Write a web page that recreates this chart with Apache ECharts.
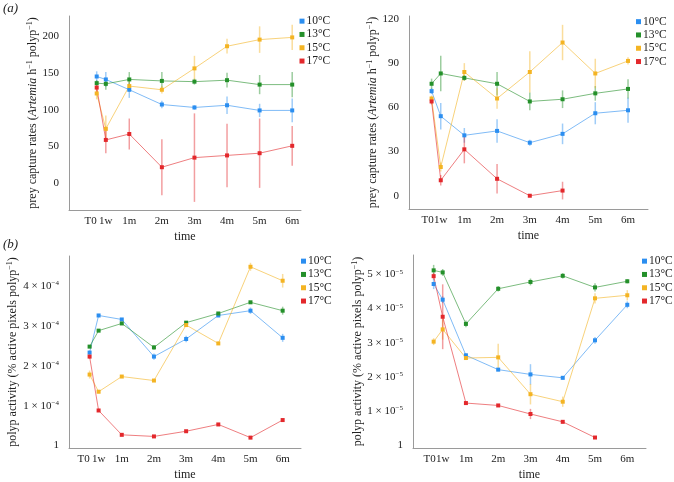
<!DOCTYPE html>
<html>
<head>
<meta charset="utf-8">
<script src="https://cdn.jsdelivr.net/npm/echarts@6/dist/echarts.min.js"></script>
<style>
  html, body { margin: 0; padding: 0; background: #fff; }
  #chart { width: 674px; height: 482px; }
</style>
</head>
<body>
<div id="chart"></div>
<script>
// time points (months after start) and their labels
const months = [0, 0.28, 1, 2, 3, 4, 5, 6]
const tickNames = ['T0', '1w', '1m', '2m', '3m', '4m', '5m', '6m']
const temps = ['10°C', '13°C', '15°C', '17°C']
const colors = ['#2b8ef0', '#24902a', '#f4b423', '#e3282c']

// (a) left: prey capture rates
const a1_10 = [145, 141, 127, 107, 103, 106, 99, 99]
const a1_10err = [7, 10, 11, 5, 3, 12, 9, 16]
const a1_13 = [136, 135, 141, 139, 138, 140, 134, 134]
const a1_13err = [4, 8, 10, 12, 4, 10, 13, 17]
const a1_15 = [122, 74, 132, 127, 156, 186, 195, 198]
const a1_15err = [8, 18, 8, 5, 17, 10, 18, 17]
const a1_17 = [130, 59, 67, 22, 35, 38, 41, 51]
const a1_17err = [8, 18, 21, 38, 60, 43, 47, 27]

// (a) right: prey capture rates
const a2_10 = [71, 54, 41, 44, 36, 42, 56, 58]
const a2_10err = [2, 9, 5, 8, 2, 7, 7.5, 8.5]
const a2_13 = [76, 83, 80, 76, 64, 65.5, 69.5, 72.5]
const a2_13err = [3.5, 12, 2, 8, 6, 6, 5, 6.5]
const a2_15 = [66, 19.5, 84, 66, 84, 104, 83, 91.5]
const a2_15err = [2, 3, 6, 7, 14, 12, 10, 2.5]
const a2_17 = [64, 10.5, 31.5, 11.5, 0, 3.5]
const a2_17err = [2, 3.5, 9.5, 10, 0.5, 6]

// (b) left: polyp activity
const b1_10 = [2.33e-4, 3.26e-4, 3.16e-4, 2.23e-4, 2.67e-4, 3.26e-4, 3.38e-4, 2.70e-4]
const b1_10err = [0.05e-4, 0.04e-4, 0.03e-4, 0.08e-4, 0.08e-4, 0.03e-4, 0.08e-4, 0.1e-4]
const b1_13 = [2.48e-4, 2.88e-4, 3.06e-4, 2.46e-4, 3.08e-4, 3.31e-4, 3.59e-4, 3.38e-4]
const b1_13err = [0.04e-4, 0.03e-4, 0.03e-4, 0.06e-4, 0.03e-4, 0.03e-4, 0.03e-4, 0.1e-4]
const b1_15 = [1.78e-4, 1.35e-4, 1.73e-4, 1.63e-4, 3.02e-4, 2.56e-4, 4.48e-4, 4.13e-4]
const b1_15err = [0.1e-4, 0.04e-4, 0.03e-4, 0.03e-4, 0.04e-4, 0.03e-4, 0.1e-4, 0.17e-4]
const b1_17 = [2.23e-4, 0.88e-4, 0.27e-4, 0.23e-4, 0.36e-4, 0.53e-4, 0.2e-4, 0.64e-4]
const b1_17err = [0.05e-4, 0.03e-4, 0.02e-4, 0.02e-4, 0.02e-4, 0.02e-4, 0.02e-4, 0.03e-4]

// (b) right: polyp activity
const b2_10 = [4.72e-5, 4.26e-5, 2.63e-5, 2.21e-5, 2.07e-5, 1.97e-5, 3.07e-5, 4.11e-5]
const b2_10err = [0.15e-5, 0.1e-5, 0.05e-5, 0.05e-5, 0.3e-5, 0.05e-5, 0.1e-5, 0.1e-5]
const b2_13 = [5.12e-5, 5.06e-5, 3.55e-5, 4.58e-5, 4.78e-5, 4.96e-5, 4.62e-5, 4.80e-5]
const b2_13err = [0.16e-5, 0.1e-5, 0.1e-5, 0.08e-5, 0.1e-5, 0.08e-5, 0.12e-5, 0.06e-5]
const b2_15 = [3.03e-5, 3.39e-5, 2.55e-5, 2.57e-5, 1.49e-5, 1.27e-5, 4.30e-5, 4.39e-5]
const b2_15err = [0.1e-5, 0.3e-5, 0.05e-5, 0.4e-5, 0.3e-5, 0.15e-5, 0.15e-5, 0.15e-5]
const b2_17 = [4.95e-5, 3.76e-5, 1.23e-5, 1.16e-5, 0.91e-5, 0.68e-5, 0.22e-5]
const b2_17err = [0.1e-5, 0.95e-5, 0.05e-5, 0.03e-5, 0.15e-5, 0.03e-5, 0.03e-5]

// y tick values
const a1Ticks = [0, 50, 100, 150, 200]
const a2Ticks = [0, 30, 60, 90, 120]
const b1Ticks = [0, 1e-4, 2e-4, 3e-4, 4e-4]
const b2Ticks = [0, 1e-5, 2e-5, 3e-5, 4e-5, 5e-5]

const FONT = '"Liberation Serif", "Times New Roman", serif'

function fade(hex, a) {
  const n = parseInt(hex.slice(1), 16)
  return 'rgba(' + (n >> 16) + ',' + ((n >> 8) & 255) + ',' + (n & 255) + ',' + a + ')'
}

const panels = [
  { vals: [a1_10, a1_13, a1_15, a1_17], errs: [a1_10err, a1_13err, a1_15err, a1_17err],
    grid: { left: 69, top: 16, width: 232, height: 194 }, x: [-0.85, 6.27], y: [-36, 227],
    ticks: a1Ticks, exp: 0, t0pad: 12, nameGap: 27, legend: { left: 299.5, top: 14.5 } },
  { vals: [a2_10, a2_13, a2_15, a2_17], errs: [a2_10err, a2_13err, a2_15err, a2_17err],
    grid: { left: 409, top: 16, width: 239, height: 193 }, x: [-0.69, 6.61], y: [-9, 122],
    ticks: a2Ticks, exp: 0, t0pad: 8, nameGap: 25, legend: { left: 636, top: 15 } },
  { vals: [b1_10, b1_13, b1_15, b1_17], errs: [b1_10err, b1_13err, b1_15err, b1_17err],
    grid: { left: 69, top: 256, width: 232, height: 192 }, x: [-0.64, 6.57], y: [-0.06e-4, 4.75e-4],
    ticks: b1Ticks, exp: 4, t0pad: 12, nameGap: 50, legend: { left: 301, top: 254.5 } },
  { vals: [b2_10, b2_13, b2_15, b2_17], errs: [b2_10err, b2_13err, b2_15err, b2_17err],
    grid: { left: 413, top: 255, width: 233, height: 194 }, x: [-0.64, 6.58], y: [-0.087e-5, 5.57e-5],
    ticks: b2Ticks, exp: 5, t0pad: 8, nameGap: 48, legend: { left: 642, top: 254.5 } }
]

const nameA = '{n|prey capture rates (}{i|Artemia}{n| h}{s|−1}{n| polyp}{s|−1}{n|)}'
const nameB = '{n|polyp activity (% active pixels polyp}{s|−1}{n|)}'
const nameRich = {
  n: { fontFamily: FONT, fontSize: 12, color: '#222' },
  i: { fontFamily: FONT, fontSize: 12, fontStyle: 'italic', color: '#222' },
  s: { fontFamily: FONT, fontSize: 8, color: '#222', verticalAlign: 'top', padding: [0, 0, 5, 0] }
}

const grids = [], xAxes = [], yAxes = [], legends = [], series = []

panels.forEach(function (p, g) {
  grids.push(p.grid)
  xAxes.push({
    gridIndex: g, type: 'value', min: p.x[0], max: p.x[1],
    axisLine: { show: true, onZero: false, lineStyle: { color: '#9a9a9a', width: 1 } },
    axisTick: { show: false }, splitLine: { show: false },
    axisLabel: {
      customValues: months, margin: 6, fontFamily: FONT, fontSize: 11, color: '#222',
      hideOverlap: false, showMinLabel: true, showMaxLabel: true,
      formatter: function (v) {
        const i = months.indexOf(v)
        if (i === 0) return '{l|T0}'
        return i >= 0 ? tickNames[i] : ''
      },
      rich: { l: { fontFamily: FONT, fontSize: 11, color: '#222', padding: [0, p.t0pad, 0, 0] } }
    },
    name: 'time', nameLocation: 'middle', nameGap: 21,
    nameTextStyle: { fontFamily: FONT, fontSize: 12, color: '#222' }
  })
  yAxes.push({
    gridIndex: g, type: 'value', min: p.y[0], max: p.y[1],
    axisLine: { show: true, onZero: false, lineStyle: { color: '#9a9a9a', width: 1 } },
    axisTick: { show: false }, splitLine: { show: false },
    axisLabel: {
      customValues: p.ticks, margin: 10, fontFamily: FONT, fontSize: 11, color: '#222',
      formatter: function (v) {
        if (!p.exp) return String(v)
        if (v === 0) return '1'
        const k = Math.round(v * Math.pow(10, p.exp))
        return '{n|' + k + ' × 10}{s|−' + p.exp + '}'
      },
      rich: {
        n: { fontFamily: FONT, fontSize: 11, color: '#222' },
        s: { fontFamily: FONT, fontSize: 7, color: '#222', verticalAlign: 'top', padding: [0, 0, 5, 0] }
      }
    },
    name: g < 2 ? nameA : nameB, nameLocation: 'middle', nameGap: p.nameGap,
    nameTextStyle: { rich: nameRich }
  })
  legends.push({
    orient: 'vertical', left: p.legend.left, top: p.legend.top, padding: 0, itemGap: 0,
    icon: 'rect', itemWidth: 5, itemHeight: 5, data: temps,
    textStyle: { fontFamily: FONT, fontSize: 11.5, lineHeight: 13.3, color: '#222', padding: [0, 0, 0, -3] }
  })
  p.vals.forEach(function (v, k) {
    const e = p.errs[k]
    const col = colors[k]
    series.push({
      type: 'custom', name: 'err' + g + k, xAxisIndex: g, yAxisIndex: g, silent: true, z: 2,
      data: v.map(function (y, i) { return [months[i], y - e[i], y + e[i]] }),
      encode: { x: 0, y: [1, 2] },
      renderItem: function (params, api) {
        const lo = api.coord([api.value(0), api.value(1)])
        const hi = api.coord([api.value(0), api.value(2)])
        return { type: 'line', shape: { x1: lo[0], y1: lo[1], x2: hi[0], y2: hi[1] },
          style: { stroke: fade(col, 0.45), lineWidth: 1.5 } }
      }
    })
    series.push({
      type: 'line', name: temps[k], xAxisIndex: g, yAxisIndex: g, z: 3,
      data: v.map(function (y, i) { return [months[i], y] }),
      symbol: 'rect', symbolSize: 4, showSymbol: true,
      itemStyle: { color: col },
      lineStyle: { color: fade(col, 0.6), width: 1 },
      emphasis: { disabled: true }
    })
  })
})

const chart = echarts.init(document.getElementById('chart'), null, { renderer: 'canvas' })
chart.setOption({
  animation: false,
  backgroundColor: '#fff',
  grid: grids, xAxis: xAxes, yAxis: yAxes, legend: legends, series: series,
  graphic: [
    { type: 'text', left: 3, top: 2, style: { text: '(a)', font: 'italic 13px ' + FONT, fill: '#222' } },
    { type: 'text', left: 3, top: 238, style: { text: '(b)', font: 'italic 13px ' + FONT, fill: '#222' } }
  ]
})
</script>
</body>
</html>
